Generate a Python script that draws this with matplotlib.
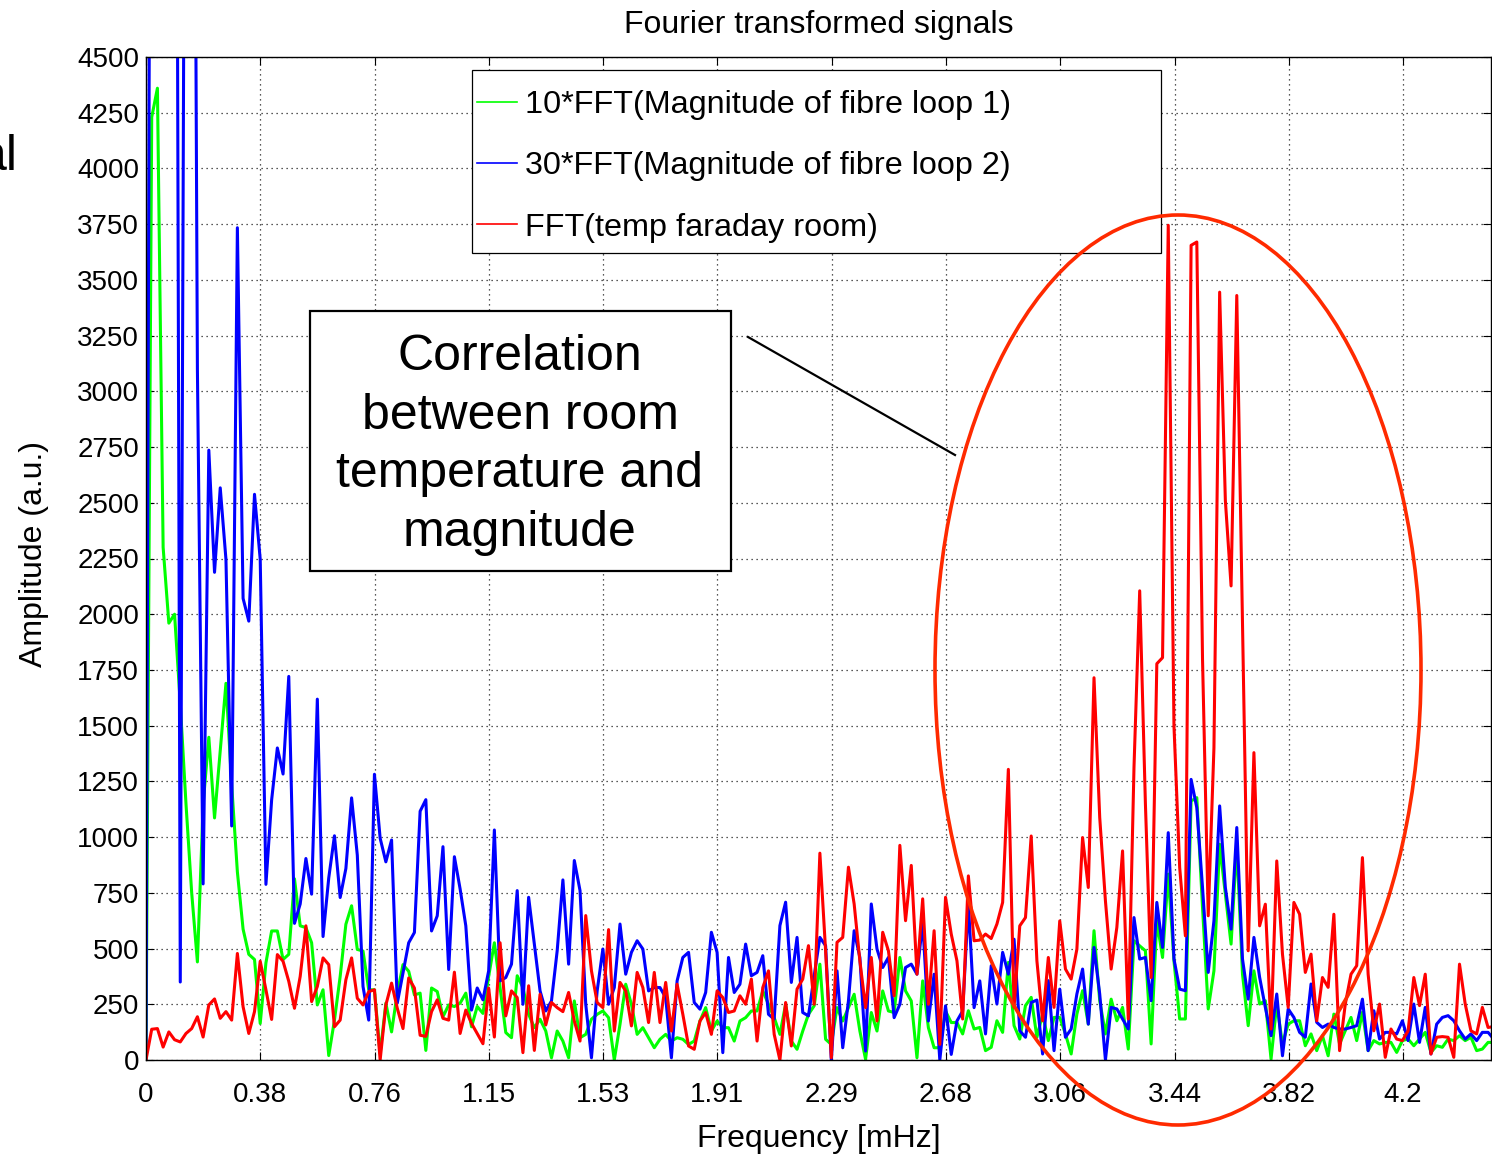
import numpy as np
import matplotlib
matplotlib.use('Agg')
import matplotlib.pyplot as plt
from matplotlib.patches import Ellipse, Rectangle
from matplotlib.lines import Line2D

plt.rcParams['font.family'] = ['Liberation Sans', 'DejaVu Sans']

# Frequency bin spacing of the FFT (mHz)
freq_step = 0.0191

# 10*FFT of fibre loop 1 magnitude
loop1 = [0, 4230, 4360, 2300, 1960, 2000, 1600, 1150, 750, 440,
         1146, 1448, 1086, 1388, 1690, 1236, 844, 587, 474, 451,
         164, 436, 579, 579, 451, 474, 813, 602, 594, 526,
         247, 315, 20, 179, 375, 609, 692, 496, 489, 315,
         315, 28, 255, 126, 300, 428, 398, 292, 300, 43,
         323, 307, 194, 247, 240, 255, 300, 149, 240, 209,
         375, 526, 325, 123, 100, 378, 325, 205, 145, 183,
         130, 10, 130, 85, 10, 265, 100, 115, 183, 205,
         220, 190, 0, 160, 340, 250, 115, 145, 100, 55,
         93, 115, 85, 100, 93, 70, 85, 175, 235, 130,
         175, 145, 145, 85, 175, 190, 220, 220, 310, 250,
         190, 115, 250, 85, 48, 130, 205, 243, 430, 93,
         70, 235, 175, 235, 295, 130, 3, 213, 130, 310,
         220, 213, 460, 310, 265, 10, 355, 145, 55, 55,
         220, 168, 168, 117, 221, 139, 146, 42, 57, 176,
         124, 438, 154, 94, 244, 281, 102, 206, 87, 191,
         191, 117, 27, 206, 311, 161, 580, 266, 117, 273,
         176, 236, 49, 535, 512, 490, 72, 624, 460, 834,
         445, 184, 184, 1162, 1177, 684, 229, 400, 968, 744,
         520, 968, 385, 154, 400, 251, 266, 4, 251, 72,
         161, 176, 176, 64, 117, 42, 109, 19, 206, 72,
         131, 191, 87, 214, 42, 87, 72, 79, 79, 34,
         87, 94, 64, 94, 124, 34, 64, 57, 94, 87,
         109, 87, 102, 42, 49, 79, 79]

# 30*FFT of fibre loop 2 magnitude
loop2 = [0, 8000, 12000, 15000, 12000, 9200, 350, 7400, 8650, 3100,
         790, 2736, 2188, 2567, 2246, 1050, 3734, 2071, 1969, 2538,
         2246, 788, 1167, 1400, 1283, 1721, 613, 700, 904, 744,
         1619, 554, 817, 1006, 729, 859, 1176, 919, 330, 179,
         1282, 995, 889, 987, 255, 390, 526, 572, 1116, 1168,
         579, 647, 957, 406, 912, 768, 602, 224, 323, 270,
         400, 1032, 355, 370, 430, 760, 250, 730, 520, 310,
         220, 265, 490, 808, 430, 895, 760, 250, 10, 310,
         498, 250, 325, 610, 385, 483, 535, 498, 310, 325,
         325, 280, 10, 355, 460, 483, 258, 228, 303, 573,
         483, 33, 460, 303, 340, 520, 378, 393, 468, 205,
         183, 603, 708, 348, 550, 213, 198, 378, 550, 513,
         0, 400, 55, 265, 580, 460, 40, 700, 498, 415,
         460, 190, 250, 415, 430, 385, 618, 175, 385, 0,
         243, 25, 175, 220, 700, 235, 355, 117, 423, 251,
         483, 385, 542, 131, 102, 258, 269, 27, 356, 42,
         318, 102, 139, 296, 408, 161, 505, 296, 0, 236,
         229, 184, 139, 639, 453, 460, 266, 707, 505, 1020,
         453, 318, 311, 1259, 1132, 774, 393, 624, 1140, 774,
         587, 1043, 453, 273, 550, 371, 236, 109, 296, 19,
         229, 191, 124, 102, 341, 169, 146, 161, 146, 139,
         139, 146, 154, 273, 42, 221, 94, 124, 124, 117,
         176, 87, 251, 79, 236, 27, 161, 191, 199, 176,
         131, 94, 117, 87, 124, 124, 94]

# FFT of the faraday room temperature
room_temp = [0, 138, 141, 58, 126, 91, 81, 119, 141, 194,
             103, 247, 274, 187, 217, 179, 478, 239, 119, 217,
             443, 315, 182, 473, 443, 353, 232, 375, 602, 262,
             330, 458, 428, 149, 179, 360, 458, 277, 247, 307,
             315, 0, 247, 345, 232, 141, 368, 323, 111, 106,
             217, 270, 187, 179, 394, 119, 224, 164, 119, 73,
             323, 103, 526, 198, 310, 280, 33, 333, 43, 295,
             157, 258, 235, 217, 303, 175, 85, 648, 400, 258,
             235, 585, 130, 348, 310, 153, 393, 325, 168, 393,
             168, 348, 130, 340, 205, 63, 48, 175, 213, 115,
             310, 280, 213, 220, 288, 250, 363, 85, 325, 400,
             115, 0, 258, 63, 318, 363, 513, 250, 928, 490,
             10, 528, 550, 865, 700, 445, 235, 460, 175, 573,
             490, 288, 963, 625, 873, 385, 723, 250, 580, 70,
             730, 565, 445, 184, 826, 535, 538, 565, 545, 610,
             707, 1304, 236, 602, 639, 1005, 445, 176, 460, 236,
             624, 408, 363, 497, 998, 774, 1715, 1088, 714, 408,
             595, 938, 184, 1312, 2105, 1150, 370, 1778, 1805, 3745,
             1500, 864, 557, 3655, 3670, 1800, 647, 1400, 3445, 2510,
             2127, 3430, 1950, 490, 1379, 602, 699, 139, 893, 475,
             236, 707, 654, 393, 475, 176, 370, 326, 654, 42,
             251, 385, 423, 908, 385, 131, 251, 12, 139, 94,
             87, 131, 370, 244, 385, 27, 102, 105, 102, 12,
             430, 251, 131, 117, 236, 146, 150]

xtick_vals = np.arange(12) * 0.3822
xtick_labels = ['0', '0.38', '0.76', '1.15', '1.53', '1.91', '2.29',
                '2.68', '3.06', '3.44', '3.82', '4.2']
ytick_vals = np.arange(0, 4501, 250)

freq = np.arange(len(room_temp)) * freq_step

W, H = 1492, 1155
fig = plt.figure(figsize=(W / 100, H / 100), dpi=100)
ax = fig.add_axes([146 / W, 1 - 1060 / H, 1345 / W, 1003 / H])

ax.plot(freq, loop1, color='#00ff00', lw=2.2)
ax.plot(freq, loop2, color='#0000ff', lw=2.2)
ax.plot(freq, room_temp, color='#ff0000', lw=2.2)

ax.set_xlim(0, 1345 / 299)
ax.set_ylim(0, 4500)
ax.set_xticks(xtick_vals)
ax.set_xticklabels(xtick_labels)
ax.set_yticks(ytick_vals)
ax.tick_params(direction='in', length=6, width=0.8, top=True, right=True,
               labelsize=20)
ax.tick_params(axis='x', pad=16)
ax.tick_params(axis='y', pad=5)
ax.grid(True, color='#222222', linestyle=(0, (1, 3)), lw=0.9)
for sp in ax.spines.values():
    sp.set_linewidth(1.0)

ax.set_title('Fourier transformed signals', fontsize=23, pad=17)
ax.set_xlabel('Frequency [mHz]', fontsize=23)
ax.xaxis.set_label_coords(0.5, -0.0785)
ax.xaxis.label.set_va('center')
ax.set_ylabel('Amplitude (a.u.)', fontsize=23)
ax.yaxis.set_label_coords(-0.083, 0.5045)
ax.yaxis.label.set_va('center')

# legend: frameless entries inside a hand-drawn box
handles = [Line2D([], [], color='#00ff00', lw=1.2),
           Line2D([], [], color='#0000ff', lw=1.2),
           Line2D([], [], color='#ff0000', lw=1.2)]
labels = ['10*FFT(Magnitude of fibre loop 1)',
          '30*FFT(Magnitude of fibre loop 2)',
          'FFT(temp faraday room)']
fig.add_artist(Rectangle((472 / W, 1 - 253 / H), (1161 - 472) / W, (253 - 70) / H,
                         transform=fig.transFigure, facecolor='white',
                         edgecolor='black', lw=0.9, zorder=3))
leg = ax.legend(handles, labels, loc='upper left',
                bbox_to_anchor=(477 / W, 1 - 90 / H),
                bbox_transform=fig.transFigure, fontsize=23.3, handlelength=1.25,
                handletextpad=0.22, labelspacing=0.97, borderpad=0,
                borderaxespad=0, frameon=False)
leg.set_zorder(4)
fig.add_artist(leg)

# callout box and pointer
fig.add_artist(Rectangle((310 / W, 1 - 571 / H), (731 - 310) / W, (571 - 311) / H,
                         transform=fig.transFigure, facecolor='white',
                         edgecolor='black', lw=1.6, zorder=5))
fig.text(520 / W, 1 - 445 / H, 'Correlation\nbetween room\ntemperature and\nmagnitude',
         ha='center', va='center', fontsize=36, linespacing=1.36, zorder=6)
fig.add_artist(Line2D([748 / W, 955 / W], [1 - 337 / H, 1 - 455 / H],
                      transform=fig.transFigure, color='black', lw=1.6, zorder=5))

# highlight around the 3.4 mHz peaks
fig.add_artist(Ellipse((1178 / W, 1 - 670 / H), 486 / W, 910 / H,
                       transform=fig.transFigure, fill=False,
                       edgecolor='#ff2a00', lw=2.6, zorder=7))

# slide fragments at the edges
fig.text(18 / W, 1 - 157 / H, 'al', ha='right', va='center', fontsize=36)
fig.text(1376 / W, 1 + 4 / H, 'PROGRAMME', ha='center', va='center',
         fontsize=14, fontweight='bold', color='#1f4f8f')

fig.savefig('out.png', dpi=100)
